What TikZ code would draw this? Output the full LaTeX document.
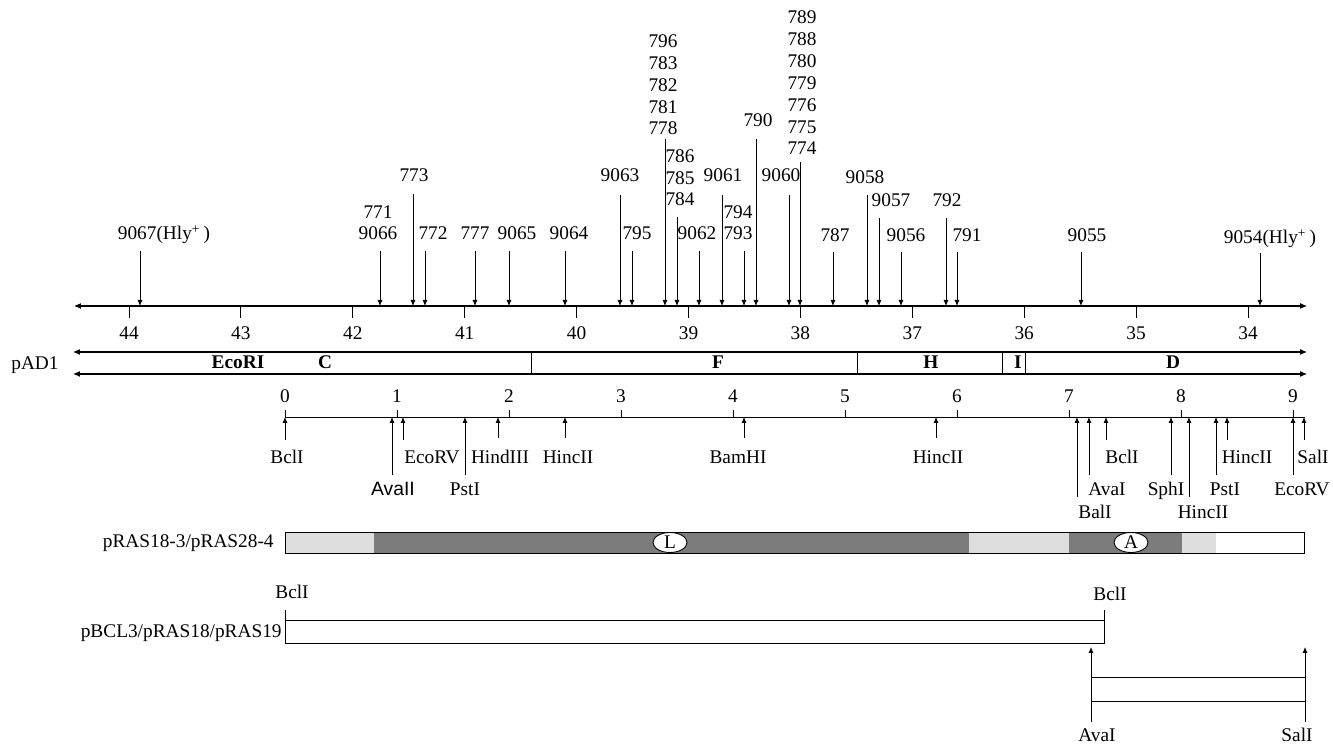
\documentclass[tikz,border=0pt]{standalone}
\usepackage{fontspec}
\setmainfont{Liberation Serif}
\newfontfamily\avafont{Liberation Sans}
\usetikzlibrary{arrows.meta,shapes.geometric}
\definecolor{MLight}{HTML}{DEDEDE}
\definecolor{MDark}{HTML}{7C7C7C}
\newcommand{\stk}[1]{\begin{tabular}[b]{@{}c@{}}#1\end{tabular}}
\newcommand{\hly}{(Hly\textsuperscript{+}\,)}

\begin{document}
\begin{tikzpicture}[x=0.02cm,y=-0.02cm,
  every node/.style={font=\fontsize{11}{12.5}\selectfont,inner sep=0pt},
  num/.style={anchor=base},
  enz/.style={anchor=base},
  frag/.style={anchor=base,font=\fontsize{11}{12.5}\selectfont\bfseries},
  axisline/.style={{Latex[length=1.4mm,width=1.2mm]}-{Latex[length=1.4mm,width=1.2mm]},line width=0.6pt},
  site/.style={-{Latex[length=1.2mm,width=1mm]},line width=0.45pt},
  tick/.style={line width=0.5pt},
  oval/.style={ellipse,draw,fill=white,line width=0.5pt,
    minimum width=0.68cm,minimum height=0.40cm}
]
  \useasboundingbox (0,0) rectangle (1333,746);

  % upper kb axis
  \coordinate (axL) at (74,306);
  \coordinate (axR) at (1307,306);
  \draw[axisline] (axL) -- (axR);
  \foreach \k in {34,...,44}{
    \coordinate (tk\k) at ({129+(44-\k)*111.9},306);
    \draw[tick] (tk\k) -- ++(0,12);
    \node[num] (kb\k) at ({129+(44-\k)*111.9},340) {\k};
  }

  % insertion sites
  \foreach \x/\t/\lx/\ly/\txt in {
    140/251/164/240/{9067\hly},
    380/251/378/240/{\stk{771\\9066}},
    413/194/414/182/773,
    425/251/433/240/772,
    475/251/475/240/777,
    509/251/517/240/9065,
    565/251/569/240/9064,
    620/195/620/182/9063,
    632/251/637/240/795,
    665/139/663/135/{\stk{796\\783\\782\\781\\778}},
    677/217/680/206/{\stk{786\\785\\784}},
    699/251/697/240/9062,
    722/195/723/182/9061,
    744/251/738/240/{\stk{794\\793}},
    756/139/758/127/790,
    789/195/781/182/9060,
    800/162/802/155/{\stk{789\\788\\780\\779\\776\\775\\774}},
    833/252/835/242/787,
    867/195/865/184/9058,
    879/218/891/207/9057,
    901/252/906/242/9056,
    946/218/947/207/792,
    957/252/967/242/791,
    1081/252/1087/242/9055,
    1260/253/1270/244/{9054\hly}}{
    \node[num] (top\x) at (\lx,\ly) {\txt};
    \coordinate (from\x) at (\x,\t);
    \coordinate (to\x) at (\x,306);
    \draw[site] (from\x) -- (to\x);
  }

  % pAD1 fragments
  \coordinate (pa) at (73,352);
  \coordinate (pb) at (1307,352);
  \coordinate (pc) at (73,374);
  \coordinate (pd) at (1307,374);
  \draw[axisline] (pa) -- (pb);
  \draw[axisline] (pc) -- (pd);
  \foreach \x in {531,857,1002,1025}
    \draw[tick] (\x,352) -- (\x,374);
  \node[anchor=base] (pad) at (35,370) {pAD1};
  \node[frag] (fecori) at (238,369) {EcoRI};
  \node[frag] (fc) at (325,369) {C};
  \node[frag] (ff) at (718,369) {F};
  \node[frag] (fh) at (931,369) {H};
  \node[frag] (fi) at (1018,369) {I};
  \node[frag] (fd) at (1173,369) {D};

  % lower kb scale with restriction sites
  \coordinate (scL) at (285,417);
  \coordinate (scR) at (1305,417);
  \draw[tick] (scL) -- (scR);
  \foreach \k in {0,...,9}{
    \draw[tick] ({285+\k*112},417) -- ++(0,-7);
    \node[num] (kp\k) at ({285+\k*112},403) {\k};
  }
  \foreach \x/\b/\lx/\ly/\txt in {
    285/440/287/464/BclI,
    392/475/393/496/{{\avafont AvaII}},
    403/440/432/464/EcoRV,
    465/475/465/496/PstI,
    498/438/500/464/HindIII,
    565/438/568/464/HincII,
    744/438/738/464/BamHI,
    936/438/938/464/HincII,
    1077/497/1095/519/BalI,
    1089/475/1107/496/AvaI,
    1106/440/1122/464/BclI,
    1171/475/1166/496/SphI,
    1189/497/1203/519/HincII,
    1216/475/1225/496/PstI,
    1227/440/1247/464/HincII,
    1293/475/1302/496/EcoRV,
    1304/440/1313/464/SalI}{
    \node[enz] (re\x) at (\lx,\ly) {\txt};
    \coordinate (rb\x) at (\x,\b);
    \coordinate (rt\x) at (\x,417);
    \draw[site] (rb\x) -- (rt\x);
  }

  % pRAS18-3/pRAS28-4 bar
  \fill[MLight] (285,532) rectangle (374,553);
  \fill[MDark] (374,532) rectangle (969,553);
  \fill[MLight] (969,532) rectangle (1069,553);
  \fill[MDark] (1069,532) rectangle (1182,553);
  \fill[MLight] (1182,532) rectangle (1216,553);
  \draw[tick] (285,532) rectangle (1304,553);
  \node[oval] (lgene) at (670,542.5) {L};
  \node[oval] (agene) at (1131,542.5) {A};
  \node[anchor=base east] (ras18) at (274,548) {pRAS18-3/pRAS28-4};

  % pBCL3/pRAS18/pRAS19
  \coordinate (bcA) at (285,610);
  \coordinate (bcB) at (1104,610);
  \draw[tick] (bcA) -- (285,643) -- (1104,643) -- (bcB);
  \draw[tick] (285,620) -- (1104,620);
  \node[enz] (bcl1) at (292,599) {BclI};
  \node[enz] (bcl2) at (1110,601) {BclI};
  \node[anchor=base east] (bcl3) at (282,638) {pBCL3/pRAS18/pRAS19};

  % AvaI--SalI piece
  \coordinate (avB) at (1091,722);
  \coordinate (avT) at (1091,647);
  \coordinate (slB) at (1305,722);
  \coordinate (slT) at (1305,647);
  \draw[site] (avB) -- (avT);
  \draw[site] (slB) -- (slT);
  \draw[tick] (1091,677) -- (1305,677);
  \draw[tick] (1091,701) -- (1305,701);
  \node[enz] (ava) at (1097,741) {AvaI};
  \node[enz] (sal) at (1297,741) {SalI};
\end{tikzpicture}
\end{document}
